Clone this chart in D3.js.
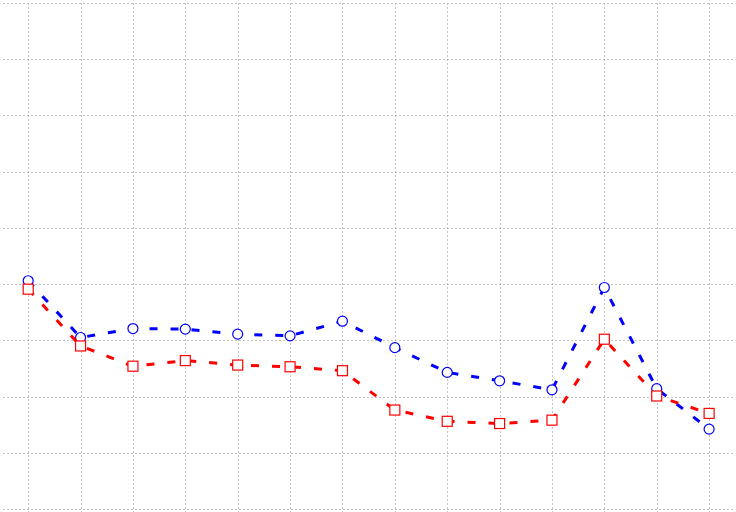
<!DOCTYPE html>
<html lang="en">
<head>
<meta charset="UTF-8">
<title>Two series, dashed</title>
<style>
  body { margin: 0; background: #fff; }
</style>
</head>
<body>
<script src="https://d3js.org/d3.v7.min.js"></script>
<script>
    // values (no axis labels in the original)
    var categories = d3.range(14);
    var blueValues = [4.06, 3.05, 3.21, 3.20, 3.11, 3.08, 3.34, 2.87, 2.43, 2.28, 2.12, 3.94, 2.14, 1.42];
    var redValues  = [3.91, 2.90, 2.54, 2.64, 2.56, 2.53, 2.46, 1.76, 1.56, 1.52, 1.58, 3.02, 2.01, 1.70];
    var yTicks = d3.range(0, 10);

    var width = 736,
        height = 512;

    var svg = d3.select("body").append("svg")
        .attr("width", width)
        .attr("height", height);

    var x = d3.scaleLinear().domain([-0.5, 13.5]).range([2, 735.3]);
    var y = d3.scaleLinear().domain([0, 9]).range([509, 3]);

    // grid
    var grid = svg.append("g").attr("stroke", "#c4c4c4").attr("stroke-width", 1)
        .attr("stroke-dasharray", "2,2").attr("shape-rendering", "crispEdges");

    grid.selectAll("line.v").data(categories).enter().append("line")
        .attr("class", "v")
        .attr("x1", function(d){ return Math.round(x(d)) + 0.5; })
        .attr("x2", function(d){ return Math.round(x(d)) + 0.5; })
        .attr("y1", 3).attr("y2", height);

    grid.selectAll("line.h").data(yTicks).enter().append("line")
        .attr("class", "h")
        .attr("y1", function(d){ return Math.round(y(d)) + 0.5; })
        .attr("y2", function(d){ return Math.round(y(d)) + 0.5; })
        .attr("x1", 3).attr("x2", 735);

    var line = d3.line()
        .x(function(d, i){ return x(categories[i]); })
        .y(function(d){ return y(d); });

    // blue series
    svg.append("path").datum(blueValues)
        .attr("d", line)
        .attr("fill", "none").attr("stroke", "#0000ff")
        .attr("stroke-width", 3).attr("stroke-dasharray", "8,13");

    svg.selectAll("circle.b").data(blueValues).enter().append("circle")
        .attr("class", "b")
        .attr("cx", function(d, i){ return x(categories[i]); })
        .attr("cy", function(d){ return y(d); })
        .attr("r", 5)
        .attr("fill", "#fff").attr("stroke", "#0000ff").attr("stroke-width", 1.2);

    // red series
    svg.append("path").datum(redValues)
        .attr("d", line)
        .attr("fill", "none").attr("stroke", "#ff0000")
        .attr("stroke-width", 3).attr("stroke-dasharray", "8,13");

    svg.selectAll("rect.r").data(redValues).enter().append("rect")
        .attr("class", "r")
        .attr("x", function(d, i){ return x(categories[i]) - 5; })
        .attr("y", function(d){ return y(d) - 5; })
        .attr("width", 10).attr("height", 10)
        .attr("fill", "#fff").attr("stroke", "#ff0000").attr("stroke-width", 1.2);
</script>
</body>
</html>
